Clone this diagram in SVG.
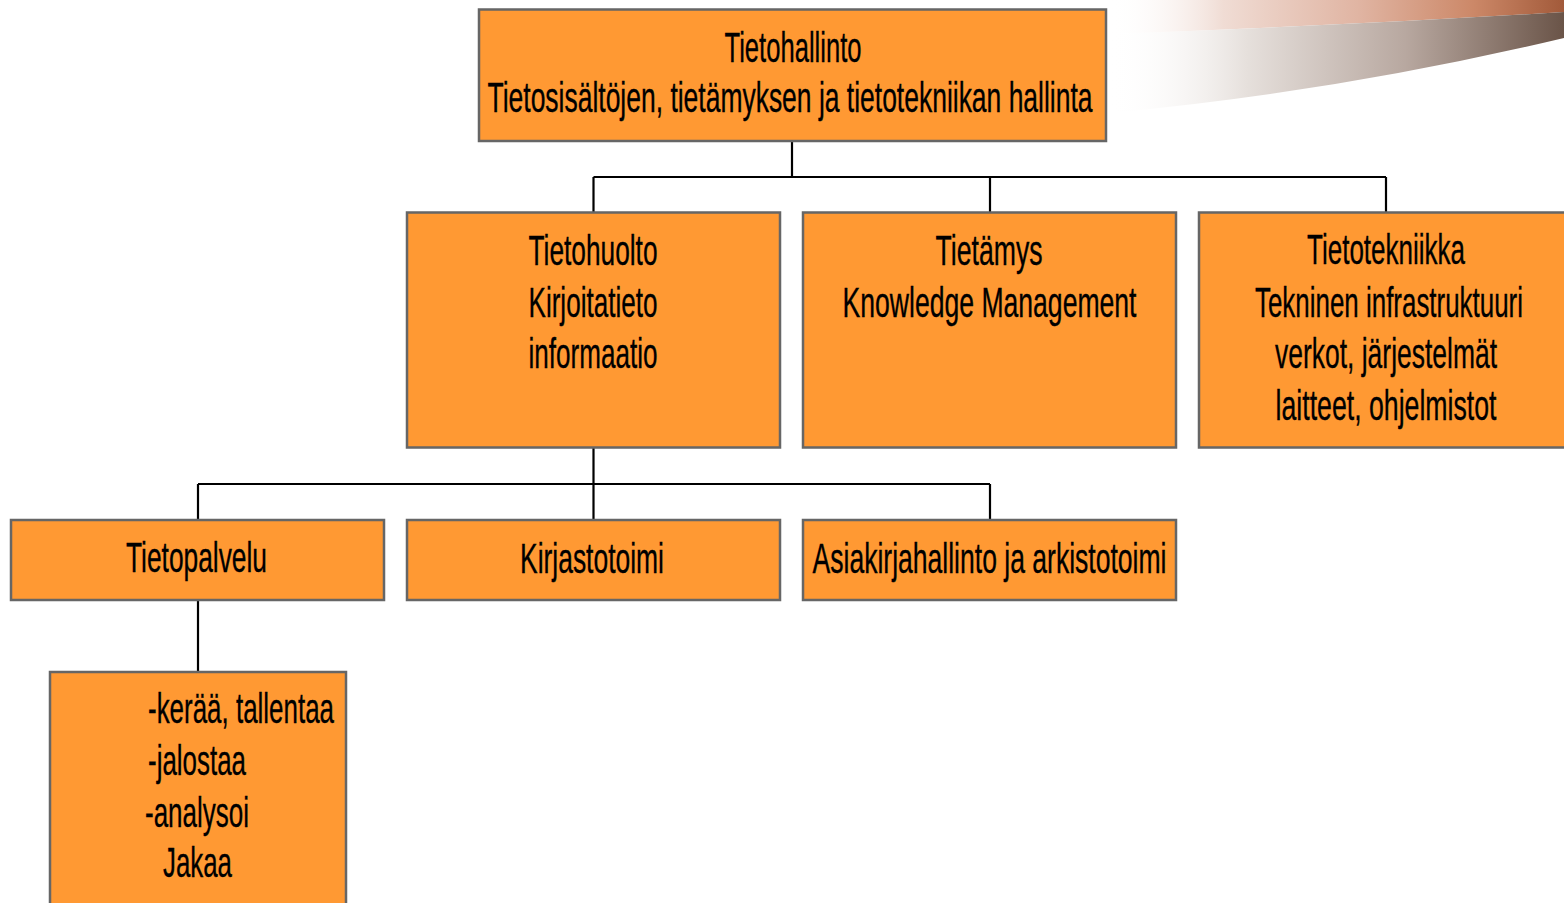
<svg xmlns="http://www.w3.org/2000/svg" width="1564" height="903" viewBox="0 0 1564 903">
<style>
.box{fill:#FF9933;stroke:#666666;stroke-width:2.5}
.t{font-family:"Liberation Sans",Arial,sans-serif;font-size:43px;fill:#000;stroke:#000;stroke-width:0.35}
.c{text-anchor:middle}
.ln{stroke:#000;stroke-width:2.2;fill:none}
</style>
<defs>
<linearGradient id="gPink" x1="1110" y1="0" x2="1564" y2="0" gradientUnits="userSpaceOnUse">
<stop offset="0" stop-color="#ffffff" stop-opacity="0"/>
<stop offset="0.25" stop-color="#F0DCD4"/>
<stop offset="0.55" stop-color="#E0B4A2"/>
<stop offset="0.8" stop-color="#CC8868"/>
<stop offset="1" stop-color="#A25A3A"/>
</linearGradient>
<linearGradient id="gGray" x1="1110" y1="0" x2="1564" y2="0" gradientUnits="userSpaceOnUse">
<stop offset="0" stop-color="#ffffff" stop-opacity="0"/>
<stop offset="0.3" stop-color="#E6E0DC"/>
<stop offset="0.65" stop-color="#B8A8A0"/>
<stop offset="1" stop-color="#6A5448"/>
</linearGradient>
</defs>
<g id="swoosh">
<path d="M1110,0 L1564,0 L1564,12 Q1337,26 1110,34 Z" fill="url(#gPink)"/>
<path d="M1110,34 Q1337,26 1564,12 L1564,38 Q1337,92 1110,113 Z" fill="url(#gGray)"/>
</g>
<g id="connectors">
<path class="ln" d="M792,141 V177 M593.5,177 H1386 M593.5,177 V212 M990,177 V212 M1386,177 V212"/>
<path class="ln" d="M593.5,448 V484 M198,484 H990 M198,484 V520 M593.5,484 V520 M990,484 V520"/>
<path class="ln" d="M198,600 V672"/>
</g>
<g id="tietohallinto">
<rect class="box" x="479" y="9.5" width="627" height="131.5"/>
<text class="t c" transform="translate(793,62) scale(0.6,1)" textLength="228.3" lengthAdjust="spacingAndGlyphs">Tietohallinto</text>
<text class="t c" transform="translate(790,112) scale(0.6,1)" textLength="1008.3" lengthAdjust="spacingAndGlyphs">Tietosisältöjen, tietämyksen ja tietotekniikan hallinta</text>
</g>
<g id="tietohuolto">
<rect class="box" x="407" y="212.5" width="373" height="235"/>
<text class="t c" transform="translate(593,265) scale(0.6,1)" textLength="215" lengthAdjust="spacingAndGlyphs">Tietohuolto</text>
<text class="t c" transform="translate(593,317) scale(0.6,1)" textLength="215" lengthAdjust="spacingAndGlyphs">Kirjoitatieto</text>
<text class="t c" transform="translate(593,368) scale(0.6,1)" textLength="215" lengthAdjust="spacingAndGlyphs">informaatio</text>
</g>
<g id="tietamys">
<rect class="box" x="803" y="212.5" width="373" height="235"/>
<text class="t c" transform="translate(989,265) scale(0.6,1)" textLength="178.3" lengthAdjust="spacingAndGlyphs">Tietämys</text>
<text class="t c" transform="translate(989.5,317) scale(0.6,1)" textLength="490" lengthAdjust="spacingAndGlyphs">Knowledge Management</text>
</g>
<g id="tietotekniikka">
<rect class="box" x="1199" y="212.5" width="367" height="235"/>
<text class="t c" transform="translate(1386,264) scale(0.6,1)" textLength="263.3" lengthAdjust="spacingAndGlyphs">Tietotekniikka</text>
<text class="t c" transform="translate(1389,317) scale(0.6,1)" textLength="446.7" lengthAdjust="spacingAndGlyphs">Tekninen infrastruktuuri</text>
<text class="t c" transform="translate(1386,368) scale(0.6,1)" textLength="370" lengthAdjust="spacingAndGlyphs">verkot, järjestelmät</text>
<text class="t c" transform="translate(1386,420) scale(0.6,1)" textLength="368.3" lengthAdjust="spacingAndGlyphs">laitteet, ohjelmistot</text>
</g>
<g id="tietopalvelu">
<rect class="box" x="11" y="520" width="373" height="80"/>
<text class="t c" transform="translate(196.5,572) scale(0.6,1)" textLength="235" lengthAdjust="spacingAndGlyphs">Tietopalvelu</text>
</g>
<g id="kirjastotoimi">
<rect class="box" x="407" y="520" width="373" height="80"/>
<text class="t c" transform="translate(592,573) scale(0.6,1)" textLength="240" lengthAdjust="spacingAndGlyphs">Kirjastotoimi</text>
</g>
<g id="asiakirjahallinto">
<rect class="box" x="803" y="520" width="373" height="80"/>
<text class="t c" transform="translate(989.5,573) scale(0.6,1)" textLength="590" lengthAdjust="spacingAndGlyphs">Asiakirjahallinto ja arkistotoimi</text>
</g>
<g id="tehtavat">
<rect class="box" x="50" y="672" width="296" height="245"/>
<text class="t" transform="translate(148,723) scale(0.6,1)" textLength="310" lengthAdjust="spacingAndGlyphs">-kerää, tallentaa</text>
<text class="t" transform="translate(148,775) scale(0.6,1)" textLength="163.3" lengthAdjust="spacingAndGlyphs">-jalostaa</text>
<text class="t" transform="translate(145,827) scale(0.6,1)" textLength="173.3" lengthAdjust="spacingAndGlyphs">-analysoi</text>
<text class="t" transform="translate(163,877) scale(0.6,1)" textLength="115" lengthAdjust="spacingAndGlyphs">Jakaa</text>
</g>
</svg>
